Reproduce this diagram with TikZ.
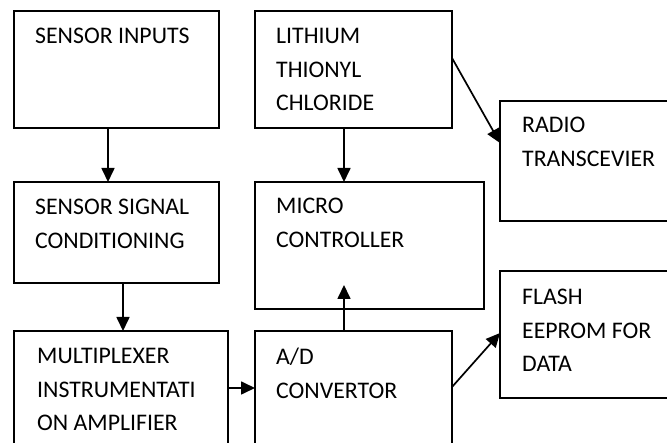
\documentclass[tikz,border=0pt]{standalone}
\usepackage{fontspec}
\setmainfont{Carlito}
\usetikzlibrary{arrows.meta}
\tikzset{
  blk/.style={draw=black, line width=1.5pt, fill=white, inner sep=0pt, outer sep=0pt, anchor=north west},
  lbl/.style={inner sep=0pt, anchor=base west},
  arr/.style={line width=1.7pt, -{Triangle[length=14pt,width=13pt]}}
}
\newcommand{\lines}[1]{\parbox[t]{220pt}{\fontsize{23.8pt}{33.5pt}\selectfont\raggedright #1}}
\begin{document}
\begin{tikzpicture}[x=1pt,y=-1pt]
\useasboundingbox (0,0) rectangle (667,443);
\clip (0,0) rectangle (667,443);
\fill[white] (0,0) rectangle (667,443);
% boxes
\node[blk, minimum width=205pt, minimum height=117pt] (inputs) at (14,11) {};
\node[blk, minimum width=197pt, minimum height=117pt] (lith) at (255,11) {};
\node[blk, minimum width=200pt, minimum height=120pt] (radio) at (500,101) {};
\node[blk, minimum width=205pt, minimum height=101pt] (signal) at (14,182) {};
\node[blk, minimum width=229pt, minimum height=127pt] (micro) at (255,182) {};
\node[blk, minimum width=200pt, minimum height=127pt] (flash) at (500,271) {};
\node[blk, minimum width=214pt, minimum height=140pt] (mux) at (14,331) {};
\node[blk, minimum width=197pt, minimum height=140pt] (ad) at (255,331) {};
% texts
\node[lbl] (tinputs) at (35,44) {\lines{SENSOR INPUTS}};
\node[lbl] (tlith) at (276,44) {\lines{LITHIUM\\THIONYL\\CHLORIDE}};
\node[lbl] (tradio) at (522,133) {\lines{RADIO\\TRANSCEVIER}};
\node[lbl] (tsignal) at (35,215) {\lines{SENSOR SIGNAL\\CONDITIONING}};
\node[lbl] (tmicro) at (276,214) {\lines{MICRO\\CONTROLLER}};
\node[lbl] (tflash) at (522,305) {\lines{FLASH\\EEPROM FOR\\DATA}};
\node[lbl] (tmux) at (37,364) {\lines{MULTIPLEXER\\INSTRUMENTATI\\ON AMPLIFIER}};
\node[lbl] (tad) at (276,365) {\lines{A/D\\CONVERTOR}};
% connectors
\draw[arr] ([xshift=94pt]inputs.south west) -- ([xshift=94pt]signal.north west);
\draw[arr] ([xshift=109pt]signal.south west) -- ([xshift=109pt]mux.north west);
\draw[arr] ([xshift=89pt]lith.south west) -- ([xshift=89pt]micro.north west);
\draw[arr] ([yshift=-47pt]lith.north east) -- ([yshift=-42pt]radio.north west);
\draw[arr] ([yshift=-57pt]mux.north east) -- ([yshift=-57pt]ad.north west);
\coordinate (adtip) at ([xshift=89pt,yshift=24pt]micro.south west);
\draw[arr] ([xshift=89pt]ad.north west) -- (adtip);
\draw[arr] ([yshift=-56pt]ad.north east) -- ([yshift=-62pt]flash.north west);
\end{tikzpicture}
\end{document}
